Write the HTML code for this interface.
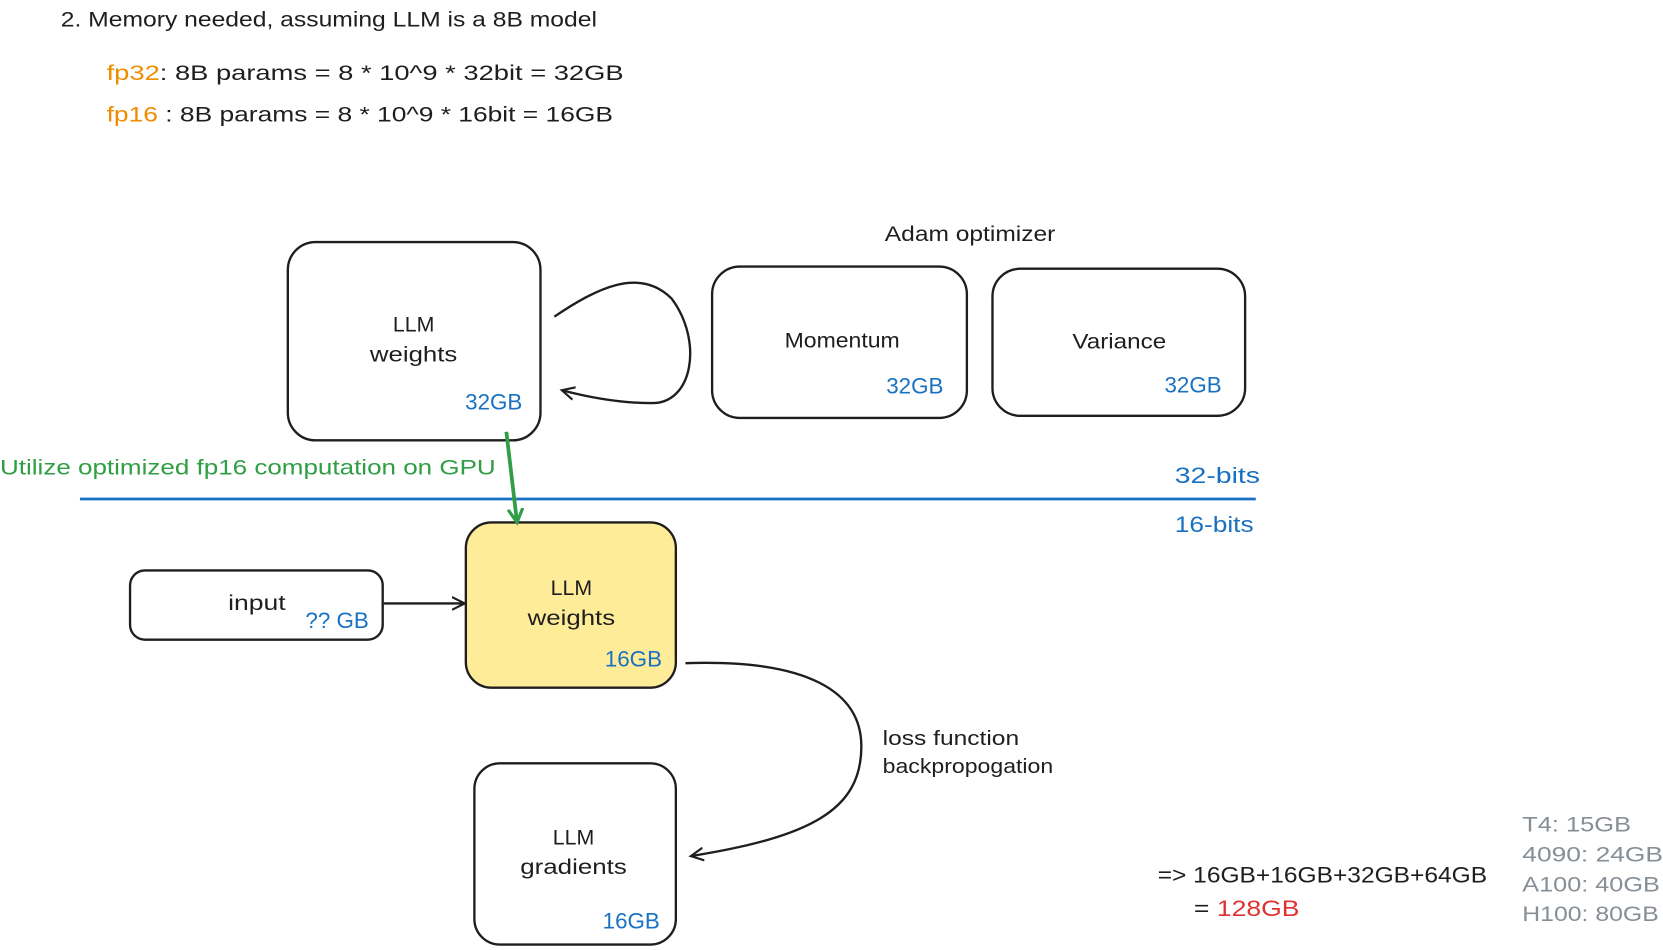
<!DOCTYPE html>
<html><head><meta charset="utf-8"><style>
html,body{margin:0;padding:0;background:#fff;width:1663px;height:950px;overflow:hidden}
svg{display:block}
text{font-family:"Liberation Sans",sans-serif}
</style></head><body>
<svg width="1663" height="950" viewBox="0 0 1560 891" xmlns="http://www.w3.org/2000/svg">
<defs>
<marker id="ah" markerWidth="14" markerHeight="14" refX="12" refY="7" orient="auto" markerUnits="userSpaceOnUse"><path d="M0,1 L12,7 L0,13" fill="none" stroke="#1e1e1e" stroke-width="2"/></marker>
<marker id="ag" markerWidth="16" markerHeight="16" refX="13" refY="8" orient="auto" markerUnits="userSpaceOnUse"><path d="M0,1 L13,8 L0,15" fill="none" stroke="#2f9e44" stroke-width="3"/></marker>
</defs>
<g font-size="20" fill="#1e1e1e">
<text x="57" y="25" textLength="503" lengthAdjust="spacingAndGlyphs">2. Memory needed, assuming LLM is a 8B model</text>
<text x="100" y="75" textLength="485" lengthAdjust="spacingAndGlyphs"><tspan fill="#f08c00">fp32</tspan>: 8B params = 8 * 10^9 * 32bit = 32GB</text>
<text x="100" y="114" textLength="475" lengthAdjust="spacingAndGlyphs"><tspan fill="#f08c00">fp16</tspan> : 8B params = 8 * 10^9 * 16bit = 16GB</text>
<text x="830" y="226" textLength="160" lengthAdjust="spacingAndGlyphs">Adam optimizer</text>
</g>
<g fill="none" stroke="#1e1e1e" stroke-width="2.2">
<rect x="270" y="227" width="237" height="186" rx="26"/>
<rect x="668" y="250" width="239" height="142" rx="26"/>
<rect x="931" y="252" width="237" height="138" rx="26"/>
<rect x="437" y="490" width="197" height="155" rx="24" fill="#ffec99"/>
<rect x="122" y="535" width="237" height="65" rx="14"/>
<rect x="445" y="716" width="189" height="170" rx="24"/>
<path d="M520,297 C560,270 600,250 630,280 C660,320 650,380 610,378 C580,378 550,372 527,366" marker-end="url(#ah)"/>
<path d="M360,566 L436,566" marker-end="url(#ah)"/>
<path d="M643,622 C760,618 808,650 808,700 C808,760 760,785 648,803" marker-end="url(#ah)"/>
</g>
<line x1="75" y1="468" x2="1178" y2="468" stroke="#1971c2" stroke-width="2.5"/>
<path d="M475,405 L485,490" stroke="#2f9e44" stroke-width="3.5" fill="none" marker-end="url(#ag)"/>
<g font-size="20" fill="#1e1e1e" text-anchor="middle">
<text x="388" y="311">LLM</text><text x="388" y="339" textLength="82" lengthAdjust="spacingAndGlyphs">weights</text>
<text x="790" y="326" textLength="108" lengthAdjust="spacingAndGlyphs">Momentum</text>
<text x="1050" y="327" textLength="88" lengthAdjust="spacingAndGlyphs">Variance</text>
<text x="536" y="558">LLM</text><text x="536" y="586" textLength="82" lengthAdjust="spacingAndGlyphs">weights</text>
<text x="241" y="572" textLength="54" lengthAdjust="spacingAndGlyphs">input</text>
<text x="538" y="792">LLM</text><text x="538" y="820" textLength="100" lengthAdjust="spacingAndGlyphs">gradients</text>
</g>
<g font-size="21" fill="#1971c2" text-anchor="end">
<text x="490" y="384">32GB</text>
<text x="885" y="369">32GB</text>
<text x="1146" y="368">32GB</text>
<text x="621" y="625">16GB</text>
<text x="346" y="589">?? GB</text>
<text x="619" y="871">16GB</text>
</g>
<g font-size="21" fill="#1971c2">
<text x="1102" y="453" textLength="80" lengthAdjust="spacingAndGlyphs">32-bits</text>
<text x="1102" y="499" textLength="74" lengthAdjust="spacingAndGlyphs">16-bits</text>
</g>
<text x="0" y="445" font-size="20" fill="#2f9e44" textLength="465" lengthAdjust="spacingAndGlyphs">Utilize optimized fp16 computation on GPU</text>
<g font-size="19" fill="#1e1e1e">
<text x="828" y="699" textLength="128" lengthAdjust="spacingAndGlyphs">loss function</text>
<text x="828" y="725" textLength="160" lengthAdjust="spacingAndGlyphs">backpropogation</text>
</g>
<g font-size="21" fill="#1e1e1e">
<text x="1086" y="828" textLength="309" lengthAdjust="spacingAndGlyphs">=&gt; 16GB+16GB+32GB+64GB</text>
<text x="1120" y="859" textLength="99" lengthAdjust="spacingAndGlyphs">= <tspan fill="#e03131">128GB</tspan></text>
</g>
<g font-size="20" fill="#868e96">
<text x="1428" y="780" textLength="102" lengthAdjust="spacingAndGlyphs">T4: 15GB</text>
<text x="1428" y="808" textLength="132" lengthAdjust="spacingAndGlyphs">4090: 24GB</text>
<text x="1428" y="836" textLength="129" lengthAdjust="spacingAndGlyphs">A100: 40GB</text>
<text x="1428" y="864" textLength="128" lengthAdjust="spacingAndGlyphs">H100: 80GB</text>
</g>
</svg>
</body></html>
